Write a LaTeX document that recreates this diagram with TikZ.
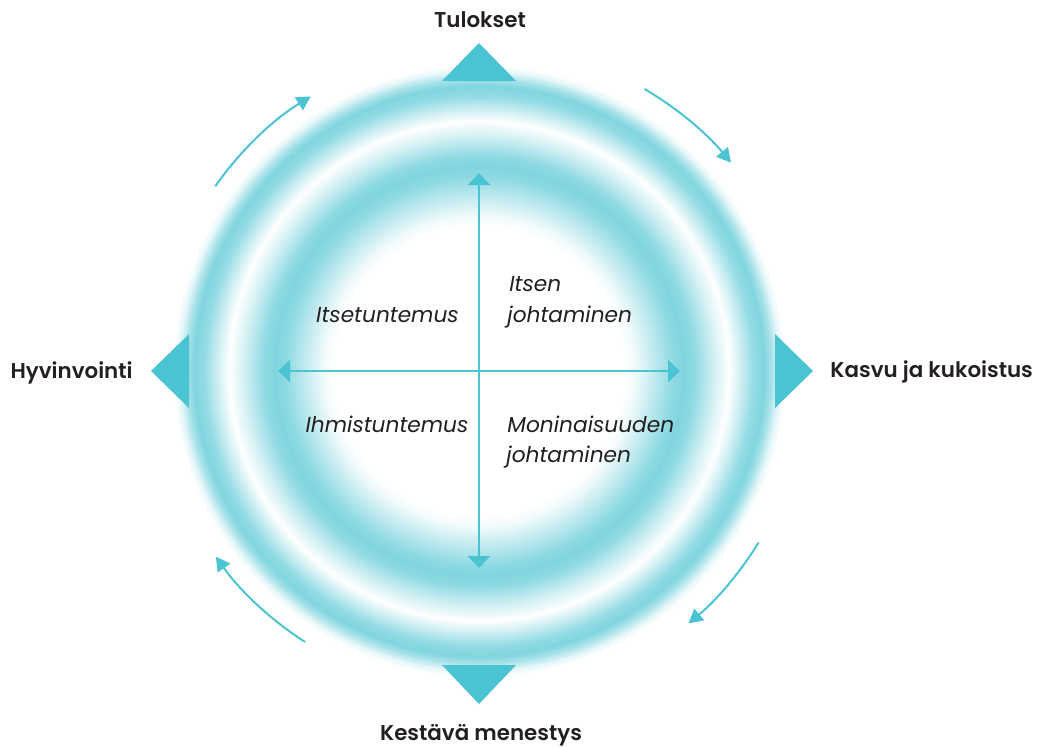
\documentclass[tikz,border=0pt]{standalone}
\usepackage{fontspec}
\IfFontExistsTF{Poppins SemiBold}
  {\setmainfont{Poppins}[BoldFont={Poppins SemiBold}]\def\labsize{10.7}}
  {\setmainfont{Poppins}\def\labsize{10.4}}
\usetikzlibrary{arrows.meta,calc}
\definecolor{tri}{HTML}{4AC4D2}
\definecolor{ring}{HTML}{80D5DF}
\definecolor{txt}{HTML}{231F20}
\colorlet{rA}{ring!10!white}
\colorlet{rB}{ring!20!white}
\colorlet{rC}{ring!35!white}
\colorlet{rD}{ring!40!white}
\colorlet{rE}{ring!50!white}
\colorlet{rF}{ring!70!white}
\colorlet{rG}{ring!85!white}
\colorlet{rH}{ring!90!white}
\pgfdeclareradialshading{glow}{\pgfpointorigin}{%
color(0bp)=(white); color(11.7bp)=(white); color(12.5bp)=(rA);
color(14.1bp)=(rE); color(15.7bp)=(rH); color(16.5bp)=(ring);
color(17.3bp)=(rH); color(18.95bp)=(rC); color(20.16bp)=(white);
color(21.13bp)=(rD); color(22.18bp)=(rG); color(22.98bp)=(ring);
color(23.55bp)=(rF); color(24.19bp)=(rB); color(24.68bp)=(white);
color(25bp)=(white); color(50bp)=(white)}
\tikzset{
  lab/.style={font=\fontsize{\labsize}{13}\selectfont\bfseries, text=txt, inner sep=0pt},
  itl/.style={font=\fontsize{10.85}{13}\selectfont\itshape, text=txt, inner sep=0pt},
  axis/.style={draw=tri, line width=1.3pt, {Triangle[length=6pt,width=11pt]}-{Triangle[length=6pt,width=11pt]}},
  carrow/.style={draw=tri, line width=1pt, -{Triangle[length=7pt,width=7.5pt]}},
  marker/.style={fill=tri}
}
\begin{document}
\begin{tikzpicture}[x=0.5pt,y=-0.5pt]
\useasboundingbox (0,0) rectangle (1043,746);
\coordinate (c) at (479,371);
\shade[shading=glow] (c) circle (155pt);
% triangles
\fill[marker] (442,81) -- (516,81) -- (479,43) -- cycle;
\fill[marker] (442,665) -- (516,665) -- (479,704) -- cycle;
\fill[marker] (189,334) -- (189,408) -- (151,371) -- cycle;
\fill[marker] (775,334) -- (775,408) -- (813,371) -- cycle;
% axes
\coordinate (vt) at (479,173);
\coordinate (vb) at (479,568);
\coordinate (hl) at (278,371);
\coordinate (hr) at (680,371);
\draw[axis] (vt) -- (vb);
\draw[axis] (hl) -- (hr);
% curved arrows
\coordinate (tl) at ($(c)+(-145:322)$);
\coordinate (tr) at ($(c)+(-59.6:327)$);
\coordinate (br) at ($(c)+(31.5:328)$);
\coordinate (bl) at ($(c)+(122.7:322)$);
\draw[carrow] (tl) arc[start angle=-145, end angle=-121.5, radius=322];
\draw[carrow] (tr) arc[start angle=-59.6, end angle=-39.6, radius=327];
\draw[carrow] (br) arc[start angle=31.5, end angle=50.3, radius=328];
\draw[carrow] (bl) arc[start angle=122.7, end angle=144.8, radius=322];
% outer labels
\node[lab, anchor=base] (tul) at (480,27) {Tulokset};
\node[lab, anchor=base east] (hyv) at (133,378) {Hyvinvointi};
\node[lab, anchor=base west] (kas) at (830,377) {Kasvu ja kukoistus};
\node[lab, anchor=base] (kes) at (481,740) {Kestävä menestys};
% inner labels
\node[itl, anchor=base] (its) at (387.5,322) {Itsetuntemus};
\node[itl, anchor=base] (ihm) at (387,432) {Ihmistuntemus};
\node[itl, anchor=base west] (ijo1) at (509,291) {Itsen};
\node[itl, anchor=base west] (ijo2) at (507,322) {johtaminen};
\node[itl, anchor=base west] (mon1) at (507,432) {Moninaisuuden};
\node[itl, anchor=base west] (mon2) at (506,462) {johtaminen};
\end{tikzpicture}
\end{document}
